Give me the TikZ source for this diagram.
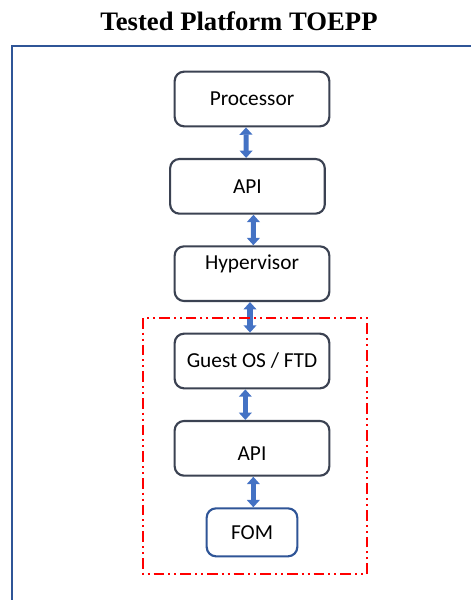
\documentclass[tikz,border=0pt]{standalone}
\usepackage{fontspec}
\setmainfont{Liberation Serif}
\newfontfamily\boxfont{Carlito}
\usetikzlibrary{arrows.meta,positioning}
\definecolor{boxgray}{RGB}{59,66,82}
\definecolor{fomblue}{RGB}{47,85,151}
\definecolor{arrowblue}{RGB}{68,114,196}
\definecolor{framered}{RGB}{255,0,0}
\tikzset{
    every node/.style={font=\boxfont\fontsize{16}{19}\selectfont},
    layer box/.style={draw=boxgray,line width=1.6pt,rounded corners=7pt,
        minimum width=116pt,minimum height=41pt,inner sep=0pt},
    fom box/.style={draw=fomblue,line width=1.6pt,rounded corners=7pt,
        minimum width=68pt,minimum height=36pt,inner sep=0pt},
    link/.style={arrowblue,line width=3.8pt,
        {Triangle[width=9.5pt,length=5.5pt]}-{Triangle[width=9.5pt,length=5.5pt]}}
}

\begin{document}
\begin{tikzpicture}[x=0.75pt,y=-0.75pt,node distance=22.9pt]

    \useasboundingbox (0,0) rectangle (471,600);

    % title and outer frame
    \node[anchor=base,font=\bfseries\fontsize{20}{23}\selectfont] (title) at (239,30) {Tested Platform TOEPP};
    \draw[fomblue,line width=2.2pt] (12,601) -- (12,46) -- (472,46);

    % layers
    \node[layer box] (proc) at (252,99) {Processor};
    \node[layer box] (api1) [below =of proc,xshift=-3.4pt] {API};
    \node[layer box,text depth=17.5pt] (hyp) [below =of api1,xshift=3.4pt] {Hypervisor};
    \node[layer box] (guest) [below =of hyp] {Guest OS / FTD\hspace{5pt}};
    \node[layer box,text height=17.6pt] (api2) [below =of guest] {API};
    \node[fom box] (fom) [below =of api2] {FOM};

    % links
    \draw[link] ([xshift=-4.5pt]proc.south) -- ([xshift=-1pt]api1.north);
    \draw[link] ([xshift=4.5pt]api1.south) -- ([xshift=1pt]hyp.north);
    \draw[link] ([xshift=-1.5pt]hyp.south) -- ([xshift=-1.5pt]guest.north);
    \draw[link] ([xshift=-5pt]guest.south) -- ([xshift=-5pt]api2.north);
    \draw[link] ([xshift=1pt]api2.south) -- ([xshift=1pt]fom.north);

    % tested part
    \draw[framered,line width=1.8pt,dash pattern=on 8pt off 3pt on 1.5pt off 3pt on 1.5pt off 3pt]
        (143,318) rectangle (367,574);
\end{tikzpicture}
\end{document}
